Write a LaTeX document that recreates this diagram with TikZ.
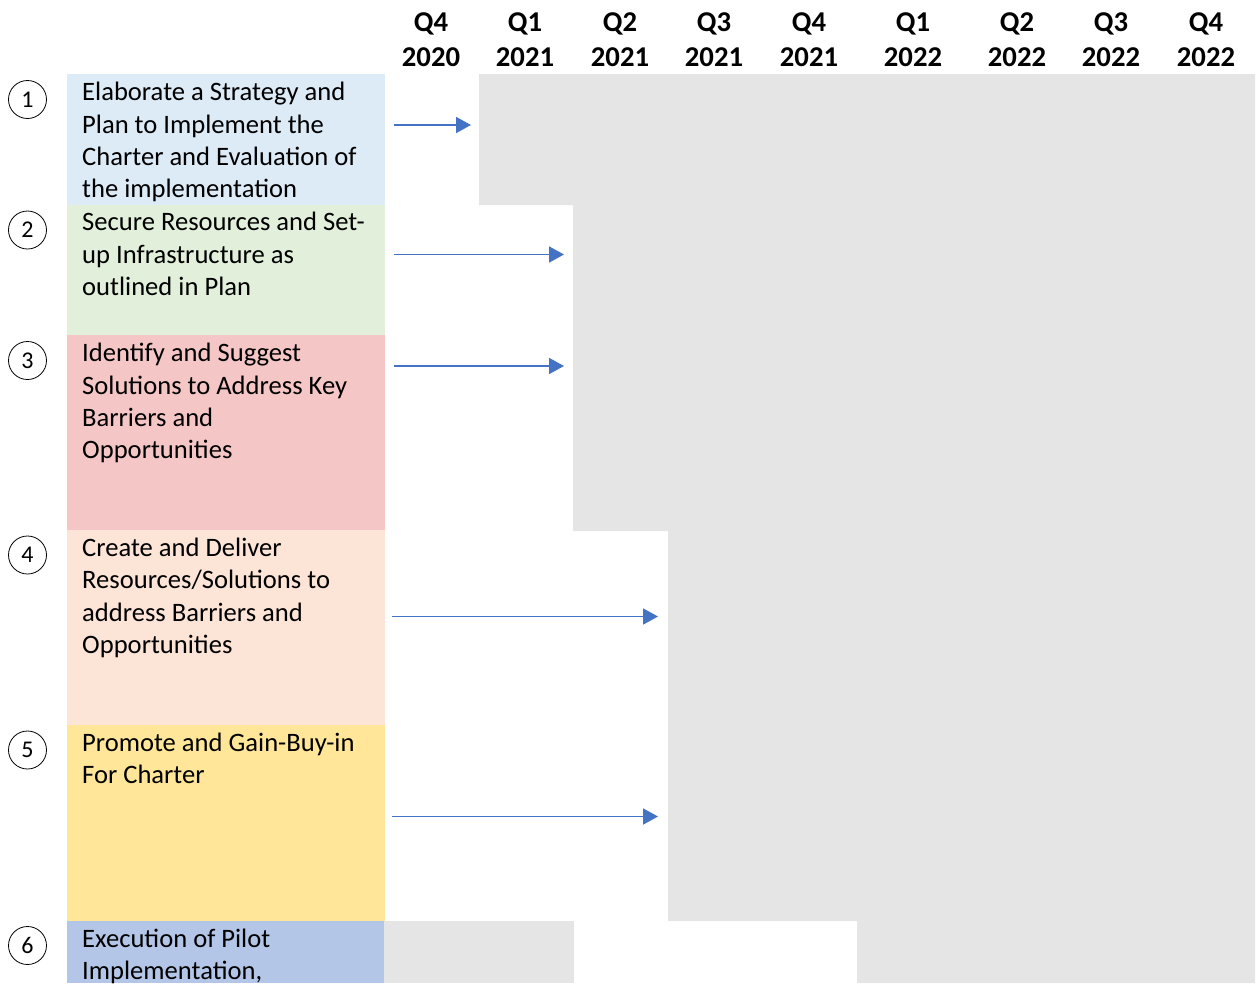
\documentclass[tikz,border=0pt]{standalone}
\usepackage{fontspec}
\setmainfont{Carlito}
\usetikzlibrary{arrows.meta}
\definecolor{rowA}{HTML}{DDEBF7}
\definecolor{rowB}{HTML}{E2EFDA}
\definecolor{rowC}{HTML}{F5C6C6}
\definecolor{rowD}{HTML}{FCE4D6}
\definecolor{rowE}{HTML}{FFE699}
\definecolor{rowF}{HTML}{B4C6E7}
\definecolor{greyfill}{HTML}{E5E5E5}
\definecolor{arrowblue}{HTML}{4472C4}
\tikzset{
  rowbox/.style={anchor=north west, inner sep=0pt, minimum width=318pt},
  rowtext/.style={anchor=base west, inner sep=0pt, text width=310pt, align=left,
    font=\fontsize{26.6}{32.4}\selectfont,
    execute at begin node={\spaceskip=6pt\relax\xspaceskip=6pt\relax}},
  headlabel/.style={anchor=base, inner sep=0pt, text width=90pt, align=center,
    font=\fontsize{28.7}{35}\selectfont\bfseries},
  numcircle/.style={circle, draw=black, line width=0.8pt, minimum size=38pt, inner sep=0pt,
    font=\fontsize{24}{24}\selectfont},
  bararrow/.style={draw=arrowblue, line width=1.8pt, -{Triangle[length=15pt,width=16pt]}},
}
\begin{document}
\begin{tikzpicture}[x=1pt,y=-1pt]
\useasboundingbox (0,0) rectangle (1257,983);
% grey background of timeline
\fill[greyfill] (479,74) -- (1255,74) -- (1255,983) -- (857,983) -- (857,921) -- (668,921)
  -- (668,531) -- (573,531) -- (573,205) -- (479,205) -- cycle;
\fill[greyfill] (384,921) rectangle (574,983);
% header
\node[headlabel] (h1) at (431,31.7) {Q4\\2020};
\node[headlabel] (h2) at (525,31.7) {Q1\\2021};
\node[headlabel] (h3) at (620,31.7) {Q2\\2021};
\node[headlabel] (h4) at (714,31.7) {Q3\\2021};
\node[headlabel] (h5) at (809,31.7) {Q4\\2021};
\node[headlabel] (h6) at (913,31.7) {Q1\\2022};
\node[headlabel] (h7) at (1017,31.7) {Q2\\2022};
\node[headlabel] (h8) at (1111,31.7) {Q3\\2022};
\node[headlabel] (h9) at (1206,31.7) {Q4\\2022};
% row boxes
\node[rowbox, fill=rowA, minimum height=131pt] (r1) at (67,74) {};
\node[rowbox, fill=rowB, minimum height=130pt] (r2) at (67,205) {};
\node[rowbox, fill=rowC, minimum height=195pt] (r3) at (67,335) {};
\node[rowbox, fill=rowD, minimum height=195pt] (r4) at (67,530) {};
\node[rowbox, fill=rowE, minimum height=196pt] (r5) at (67,725) {};
\node[rowbox, fill=rowF, minimum height=62pt, minimum width=317pt] (r6) at (67,921) {};
% row texts
\node[rowtext] (t1) at (82,100.7) {Elaborate a Strategy and\\Plan to Implement the\\Charter and Evaluation of\\the implementation};
\node[rowtext] (t2) at (82,230.7) {Secure Resources and Set-\\up Infrastructure as\\outlined in Plan};
\node[rowtext] (t3) at (82,361.7) {Identify and Suggest\\Solutions to Address Key\\Barriers and\\Opportunities};
\node[rowtext] (t4) at (82,556.5) {Create and Deliver\\Resources/Solutions to\\address Barriers and\\Opportunities};
\node[rowtext] (t5) at (82,751.5) {Promote and Gain-Buy-in\\For Charter};
\node[rowtext] (t6) at (82,947) {Execution of Pilot\\Implementation,};
% numbered circles
\node[numcircle] (c1) at (27.5,99.5) {1};
\node[numcircle] (c2) at (27.5,230) {2};
\node[numcircle] (c3) at (27.5,360.5) {3};
\node[numcircle] (c4) at (27.5,555) {4};
\node[numcircle] (c5) at (27.5,750) {5};
\node[numcircle] (c6) at (27.5,945.5) {6};
% arrows
\coordinate (a1s) at (394,125); \coordinate (a1e) at (471,125);
\coordinate (a2s) at (394,254.5); \coordinate (a2e) at (564,254.5);
\coordinate (a3s) at (394,366); \coordinate (a3e) at (564,366);
\coordinate (a4s) at (392,616.5); \coordinate (a4e) at (658,616.5);
\coordinate (a5s) at (392,816.5); \coordinate (a5e) at (658,816.5);
\draw[bararrow] (a1s) -- (a1e);
\draw[bararrow] (a2s) -- (a2e);
\draw[bararrow] (a3s) -- (a3e);
\draw[bararrow] (a4s) -- (a4e);
\draw[bararrow] (a5s) -- (a5e);
\end{tikzpicture}
\end{document}
